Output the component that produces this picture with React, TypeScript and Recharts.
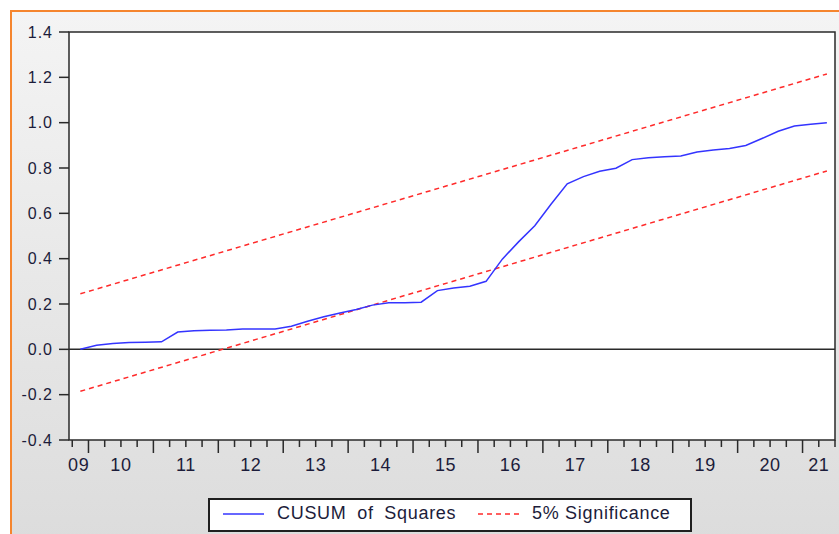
import { LineChart, Line, XAxis, YAxis, ReferenceArea, ReferenceLine } from "recharts";

// quarterly observations, CUSUM of squares statistic
const periods = [
  "2009Q4",
  "2010Q1", "2010Q2", "2010Q3", "2010Q4",
  "2011Q1", "2011Q2", "2011Q3", "2011Q4",
  "2012Q1", "2012Q2", "2012Q3", "2012Q4",
  "2013Q1", "2013Q2", "2013Q3", "2013Q4",
  "2014Q1", "2014Q2", "2014Q3", "2014Q4",
  "2015Q1", "2015Q2", "2015Q3", "2015Q4",
  "2016Q1", "2016Q2", "2016Q3", "2016Q4",
  "2017Q1", "2017Q2", "2017Q3", "2017Q4",
  "2018Q1", "2018Q2", "2018Q3", "2018Q4",
  "2019Q1", "2019Q2", "2019Q3", "2019Q4",
  "2020Q1", "2020Q2", "2020Q3", "2020Q4",
  "2021Q1", "2021Q2",
];

const cusumSq = [
  0.0,
  0.018, 0.026, 0.03, 0.031,
  0.033, 0.076, 0.082, 0.084,
  0.085, 0.09, 0.09, 0.09,
  0.102, 0.124, 0.144, 0.16,
  0.176, 0.195, 0.206, 0.206,
  0.208, 0.259, 0.271, 0.278,
  0.3, 0.398, 0.474, 0.545,
  0.64, 0.73, 0.762, 0.786,
  0.799, 0.837, 0.845, 0.85,
  0.853, 0.871, 0.879, 0.886,
  0.899, 0.93, 0.962, 0.985,
  0.993, 1.0,
];

// 5% bands are straight lines: first and last observation only
const bandPeriods = ["2009Q4", "2021Q2"];
const upperBand = [0.245, 1.215];
const lowerBand = [-0.185, 0.787];

const yTicks = [-0.4, -0.2, 0.0, 0.2, 0.4, 0.6, 0.8, 1.0, 1.2, 1.4];
const yearLabels = ["09", "10", "11", "12", "13", "14", "15", "16", "17", "18", "19", "20", "21"];

const X_MIN = 2009.7;
const X_MAX = 2021.5;
const FONT = "'Liberation Sans', Arial, sans-serif";
const TEXT = "#1c1c3a";

const toX = (p: string) => Number(p.slice(0, 4)) + (Number(p.slice(5)) - 1) * 0.25 + 0.125;

const cusumData = periods.map((p, i) => ({ x: toX(p), v: cusumSq[i] }));
const upperData = bandPeriods.map((p, i) => ({ x: toX(p), v: upperBand[i] }));
const lowerData = bandPeriods.map((p, i) => ({ x: toX(p), v: lowerBand[i] }));

// tick marks every quarter, year labels centred on the visible part of each year
const quarterMarks: number[] = [];
for (let q = Math.ceil(X_MIN * 4); q <= X_MAX * 4; q++) quarterMarks.push(q / 4);

const labelAt = new Map<string, string>();
yearLabels.forEach((lab) => {
  const yr = 2000 + Number(lab);
  const a = Math.max(yr, X_MIN);
  const b = Math.min(yr + 1, X_MAX);
  labelAt.set(((a + b) / 2).toFixed(3), lab);
});

const xTicks = Array.from(
  new Set([...quarterMarks.map((v) => v.toFixed(3)), ...labelAt.keys()])
)
  .map(Number)
  .sort((a, b) => a - b);

const XTick = (props: any) => {
  const { x, y, payload } = props;
  const v: number = payload.value;
  const isQuarter = Math.abs(v * 4 - Math.round(v * 4)) < 1e-6;
  const isYear = Math.abs(v - Math.round(v)) < 1e-6;
  const label = labelAt.get(v.toFixed(3));
  return (
    <g>
      {isQuarter && (
        <line x1={x} x2={x} y1={y} y2={y + (isYear ? 13 : 7)} stroke="#2a2a2a" strokeWidth={1.5} />
      )}
      {label && (
        <text x={x} y={y + 31} textAnchor="middle" fill={TEXT} fontSize={18} fontFamily={FONT} letterSpacing={0.6}>
          {label}
        </text>
      )}
    </g>
  );
};

const App = () => {
  return (
    <div style={{ position: "absolute", left: 0, top: 0, width: 839, height: 534, background: "#fff", overflow: "hidden" }}>
      <div
        style={{
          position: "absolute",
          left: 10,
          top: 10,
          width: 840,
          height: 530,
          borderLeft: "2px solid #f5852e",
          borderTop: "2px solid #f5852e",
          background: "linear-gradient(to bottom, #f4f4f4, #dcdcdc)",
        }}
      />
      <div style={{ position: "absolute", left: 0, top: 0 }}>
        <LineChart width={839} height={534} margin={{ top: 32, right: 4, bottom: 54, left: 9 }}>
          <XAxis
            type="number"
            dataKey="x"
            domain={[X_MIN, X_MAX]}
            ticks={xTicks}
            interval={0}
            allowDataOverflow
            axisLine={false}
            tickLine={false}
            tickSize={0}
            tickMargin={0}
            height={40}
            tick={<XTick />}
          />
          <YAxis
            type="number"
            domain={[-0.4, 1.4]}
            ticks={yTicks}
            interval={0}
            width={60}
            axisLine={false}
            tickLine={{ stroke: "#2a2a2a", strokeWidth: 1.5 }}
            tickSize={10}
            tickMargin={6}
            tickFormatter={(v: number) => v.toFixed(1)}
            tick={{ fill: TEXT, fontSize: 16, fontFamily: FONT, letterSpacing: 1 }}
          />
          <ReferenceArea
            x1={X_MIN}
            x2={X_MAX}
            y1={-0.4}
            y2={1.4}
            fill="#ffffff"
            fillOpacity={1}
            stroke="#2a2a2a"
            strokeWidth={1.5}
          />
          <ReferenceLine y={0} stroke="#2a2a2a" strokeWidth={1.5} />
          <Line
            data={upperData}
            dataKey="v"
            type="linear"
            stroke="#ff2a2a"
            strokeWidth={1.5}
            strokeDasharray="5 4"
            dot={false}
            isAnimationActive={false}
          />
          <Line
            data={lowerData}
            dataKey="v"
            type="linear"
            stroke="#ff2a2a"
            strokeWidth={1.5}
            strokeDasharray="5 4"
            dot={false}
            isAnimationActive={false}
          />
          <Line
            data={cusumData}
            dataKey="v"
            type="linear"
            stroke="#3434ff"
            strokeWidth={1.5}
            dot={false}
            isAnimationActive={false}
          />
        </LineChart>
      </div>
      <div
        style={{
          position: "absolute",
          left: 208,
          top: 498,
          width: 484,
          height: 34,
          boxSizing: "border-box",
          background: "#fff",
          border: "2px solid #1f1f1f",
          fontFamily: FONT,
          fontSize: 18,
          letterSpacing: 0.7,
          color: TEXT,
        }}
      >
        <svg width={480} height={30} style={{ position: "absolute", left: 0, top: 0 }}>
          <line x1={13} x2={54} y1={14} y2={14} stroke="#3434ff" strokeWidth={1.5} />
          <line x1={268} x2={311} y1={14} y2={14} stroke="#ff2a2a" strokeWidth={1.5} strokeDasharray="5 4" />
        </svg>
        <span style={{ position: "absolute", left: 67, top: 3, whiteSpace: "nowrap", wordSpacing: 5 }}>CUSUM of Squares</span>
        <span style={{ position: "absolute", left: 322, top: 3, whiteSpace: "nowrap" }}>5% Significance</span>
      </div>
    </div>
  );
};

export default App;
